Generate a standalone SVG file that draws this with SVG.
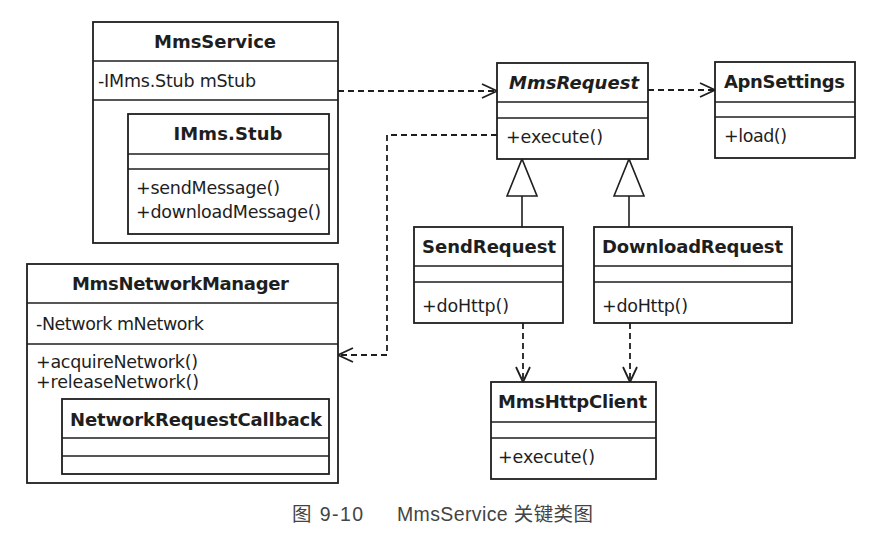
<svg xmlns="http://www.w3.org/2000/svg" width="893" height="541" viewBox="0 0 893 541">
<style>
.box{fill:#fff;stroke:#1e1e1e;stroke-width:1.8}
.div{stroke:#1e1e1e;stroke-width:1.6}
.t{font-family:"DejaVu Sans","Liberation Sans",sans-serif;font-size:18px;font-weight:bold;fill:#1e1e1e;text-anchor:middle}
.m{font-family:"DejaVu Sans","Liberation Sans",sans-serif;font-size:17.5px;fill:#1e1e1e}
.dep{fill:none;stroke:#1e1e1e;stroke-width:1.8;stroke-dasharray:6 4;marker-end:url(#open)}
.gen{fill:none;stroke:#1e1e1e;stroke-width:1.6;marker-end:url(#tri)}
.cap{font-family:"Liberation Sans","Noto Sans CJK SC",sans-serif;font-size:19.5px;fill:#444}
</style>
<defs>
<marker id="open" markerUnits="userSpaceOnUse" markerWidth="20" markerHeight="20" refX="16" refY="8" orient="auto">
<path d="M1,1 L16,8 L1,15" fill="none" stroke="#1e1e1e" stroke-width="1.8"/>
</marker>
<marker id="tri" markerUnits="userSpaceOnUse" markerWidth="42" markerHeight="34" refX="38" refY="16" orient="auto">
<path d="M1,1 L38,16 L1,31 Z" fill="#fff" stroke="#1e1e1e" stroke-width="1.6"/>
</marker>
</defs>
<rect width="893" height="541" fill="#fff"/>

<g id="connectors">
<path class="dep" d="M338,91 H497"/>
<path class="dep" d="M648,90 H715"/>
<path class="dep" d="M497,135 H387 V355 H338"/>
<path class="dep" d="M523,323 V382"/>
<path class="dep" d="M630,323 V382"/>
<path class="gen" d="M522,227 V159"/>
<path class="gen" d="M629,227 V159"/>
</g>

<g id="MmsService">
<rect class="box" x="93" y="22" width="245" height="221"/>
<line class="div" x1="93" y1="61" x2="338" y2="61"/>
<line class="div" x1="93" y1="100" x2="338" y2="100"/>
<text class="t" x="215" y="48" textLength="122">MmsService</text>
<text class="m" x="98" y="87" textLength="158">-IMms.Stub mStub</text>
</g>

<g id="IMmsStub">
<rect class="box" x="128" y="114" width="201" height="120"/>
<line class="div" x1="128" y1="154" x2="329" y2="154"/>
<line class="div" x1="128" y1="169" x2="329" y2="169"/>
<text class="t" x="228" y="140" textLength="109">IMms.Stub</text>
<text class="m" x="136" y="194" textLength="144">+sendMessage()</text>
<text class="m" x="136" y="218" textLength="185">+downloadMessage()</text>
</g>

<g id="MmsRequest">
<rect class="box" x="497" y="63" width="151" height="96"/>
<line class="div" x1="497" y1="102" x2="648" y2="102"/>
<line class="div" x1="497" y1="118" x2="648" y2="118"/>
<text class="t" x="574" y="89" textLength="130" font-style="italic">MmsRequest</text>
<text class="m" x="506" y="143" textLength="97">+execute()</text>
</g>

<g id="ApnSettings">
<rect class="box" x="715" y="62" width="140" height="96"/>
<line class="div" x1="715" y1="102" x2="855" y2="102"/>
<line class="div" x1="715" y1="117" x2="855" y2="117"/>
<text class="t" x="784.5" y="88" textLength="121">ApnSettings</text>
<text class="m" x="724" y="142" textLength="63">+load()</text>
</g>

<g id="SendRequest">
<rect class="box" x="414" y="227" width="149" height="96"/>
<line class="div" x1="414" y1="266" x2="563" y2="266"/>
<line class="div" x1="414" y1="282" x2="563" y2="282"/>
<text class="t" x="489" y="253" textLength="134">SendRequest</text>
<text class="m" x="422" y="312" textLength="87">+doHttp()</text>
</g>

<g id="DownloadRequest">
<rect class="box" x="594" y="227" width="198" height="96"/>
<line class="div" x1="594" y1="266" x2="792" y2="266"/>
<line class="div" x1="594" y1="282" x2="792" y2="282"/>
<text class="t" x="692.5" y="253" textLength="181">DownloadRequest</text>
<text class="m" x="602" y="312" textLength="86">+doHttp()</text>
</g>

<g id="MmsHttpClient">
<rect class="box" x="491" y="382" width="165" height="97"/>
<line class="div" x1="491" y1="422" x2="656" y2="422"/>
<line class="div" x1="491" y1="438" x2="656" y2="438"/>
<text class="t" x="572.5" y="408" textLength="149">MmsHttpClient</text>
<text class="m" x="498" y="463" textLength="97">+execute()</text>
</g>

<g id="MmsNetworkManager">
<rect class="box" x="27" y="264" width="311" height="219"/>
<line class="div" x1="27" y1="303" x2="338" y2="303"/>
<line class="div" x1="27" y1="344" x2="338" y2="344"/>
<text class="t" x="180.5" y="290" textLength="217">MmsNetworkManager</text>
<text class="m" x="36" y="330" textLength="168">-Network mNetwork</text>
<text class="m" x="36" y="368" textLength="162">+acquireNetwork()</text>
<text class="m" x="36" y="388" textLength="163">+releaseNetwork()</text>
</g>

<g id="NetworkRequestCallback">
<rect class="box" x="62" y="399" width="267" height="75"/>
<line class="div" x1="62" y1="438" x2="329" y2="438"/>
<line class="div" x1="62" y1="456" x2="329" y2="456"/>
<text class="t" x="196" y="426" textLength="252">NetworkRequestCallback</text>
</g>

<g id="caption">
<text class="cap" x="292" y="521" textLength="71">图 9-10</text>
<text class="cap" x="397" y="521" textLength="196">MmsService 关键类图</text>
</g>
</svg>
